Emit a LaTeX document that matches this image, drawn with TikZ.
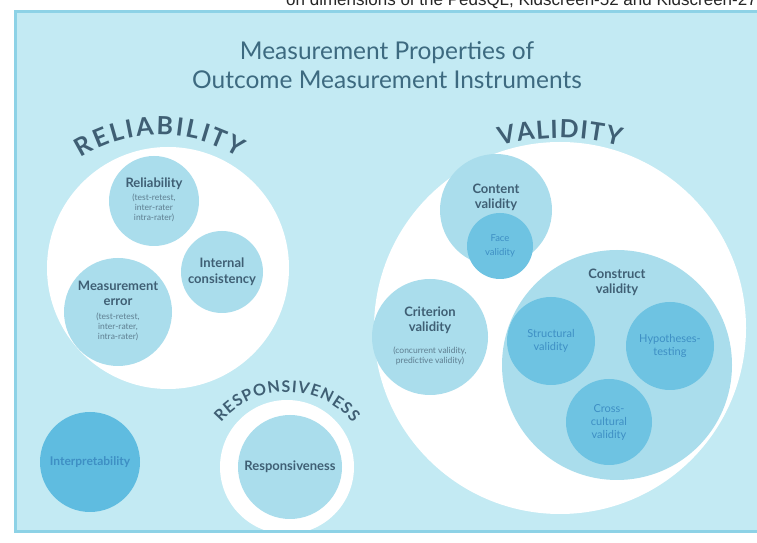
\documentclass[tikz,border=0pt]{standalone}
\usepackage{fontspec}
\setmainfont{Lato}
\newfontfamily\capfont{Liberation Sans}
\usetikzlibrary{decorations.text}

\definecolor{panel}{HTML}{C3EAF3}
\definecolor{frame}{HTML}{8DD2E6}
\definecolor{pale}{HTML}{AADDEC}
\definecolor{deep}{HTML}{6EC3E2}
\definecolor{interp}{HTML}{5FBCE0}
\definecolor{ink}{HTML}{3F5F74}
\definecolor{titleink}{HTML}{3D6A80}
\definecolor{softink}{HTML}{5E7E90}
\definecolor{blueink}{HTML}{3E8FC4}

\newcommand{\lab}{\fontsize{13}{15}\selectfont\bfseries}
\newcommand{\note}{\fontsize{8.5}{10}\selectfont\color{softink}}
\newcommand{\arcfont}{\fontsize{25}{30}\selectfont\bfseries}

\tikzstyle{group} = [circle, fill=white, inner sep=0pt]
\tikzstyle{prop} = [circle, fill=pale, inner sep=0pt, text=ink, font=\fontsize{8.5}{10}\selectfont]
\tikzstyle{subprop} = [circle, fill=deep, inner sep=0pt, text=blueink, align=center, font=\fontsize{11}{13}\selectfont]
\tikzstyle{arc-title} = [decorate, decoration={text along path, text align=fit to path, text color=ink}]

\begin{document}
\begin{tikzpicture}[x=1pt, y=1pt]
  \useasboundingbox (0,0) rectangle (757,543);
  \clip (0,0) rectangle (757,543);
  \fill[white] (0,0) rectangle (757,543);
  \node (caption) [anchor=base east, inner sep=0pt, text=black!85, font=\capfont\fontsize{17}{20}\selectfont] at (757,537) {on dimensions of the PedsQL, Kidscreen-52 and Kidscreen-27};
  \fill[panel] (15,11) rectangle (770,531);

  \node (title) [text=titleink, align=center, font=\fontsize{24.5}{29}\selectfont] at (387,478) {Measurement Properties of\\Outcome Measurement Instruments};

  % reliability
  \node (relgroup) [group, minimum size=242pt] at (168,275) {};
  \path[arc-title, decoration={text={|\arcfont|RELIABILITY}}] ([shift={(122:149)}]160,259) arc[start angle=122, end angle=58, radius=149];
  \node (rel) [prop, minimum size=90pt] at (154,342) {\begin{tabular}{@{}c@{}} \lab Reliability \\[3pt] \note (test-retest, \\ \note inter-rater \\ \note intra-rater) \end{tabular}};
  \node (meas) [prop, minimum size=108pt] at (118,231) {\begin{tabular}{@{}c@{}} \lab Measurement \\[5pt] \lab error \\[4pt] \note (test-retest, \\ \note inter-rater, \\ \note intra-rater) \end{tabular}};
  \node (intcons) [prop, minimum size=82pt] at (222,271) {\begin{tabular}{@{}c@{}} \lab Internal \\[3pt] \lab consistency \end{tabular}};

  % validity
  \node (valgroup) [group, minimum size=372pt] at (560,215) {};
  \path[arc-title, decoration={text={|\arcfont|VALIDITY}}] ([shift={(105:232)}]560,173) arc[start angle=105, end angle=75, radius=232];
  \node (content) [prop, minimum size=112pt] at (496,333) {};
  \node (contentlbl) [text=ink] at (496,345) {\begin{tabular}{@{}c@{}} \lab Content \\[2pt] \lab validity \end{tabular}};
  \node (face) [subprop, minimum size=66pt, font=\fontsize{9.5}{14}\selectfont] at (500,297) {Face\\validity};
  \node (criterion) [prop, minimum size=116pt] at (430,206) {\begin{tabular}{@{}c@{}} \lab Criterion \\[2pt] \lab validity \\[12pt] \note (concurrent validity, \\ \note predictive validity) \end{tabular}};
  \node (construct) [prop, minimum size=230pt] at (617,178) {};
  \node (constructlbl) [text=ink] at (617,260) {\begin{tabular}{@{}c@{}} \lab Construct \\[2pt] \lab validity \end{tabular}};
  \node (structural) [subprop, minimum size=88pt] at (551,202) {Structural\\validity};
  \node (hypo) [subprop, minimum size=88pt] at (670,197) {Hypotheses-\\testing};
  \node (cross) [subprop, minimum size=86pt] at (609,121) {Cross-\\cultural\\validity};

  % interpretability and responsiveness
  \node (interp) [circle, fill=interp, inner sep=0pt, minimum size=100pt, text=blueink, font=\fontsize{12}{14}\selectfont\bfseries] at (90,81) {Interpretability};
  \node (respgroup) [group, minimum size=134pt] at (287,76) {};
  \path[arc-title, decoration={text={|\fontsize{16}{20}\selectfont\bfseries|RESPONSIVENESS}}] ([shift={(140:86)}]287,65) arc[start angle=140, end angle=40, radius=86];
  \node (resp) [prop, minimum size=104pt] at (290,76) {\lab Responsiveness};

  \draw[frame, line width=3pt] (15,11) rectangle (770,531);
\end{tikzpicture}
\end{document}
